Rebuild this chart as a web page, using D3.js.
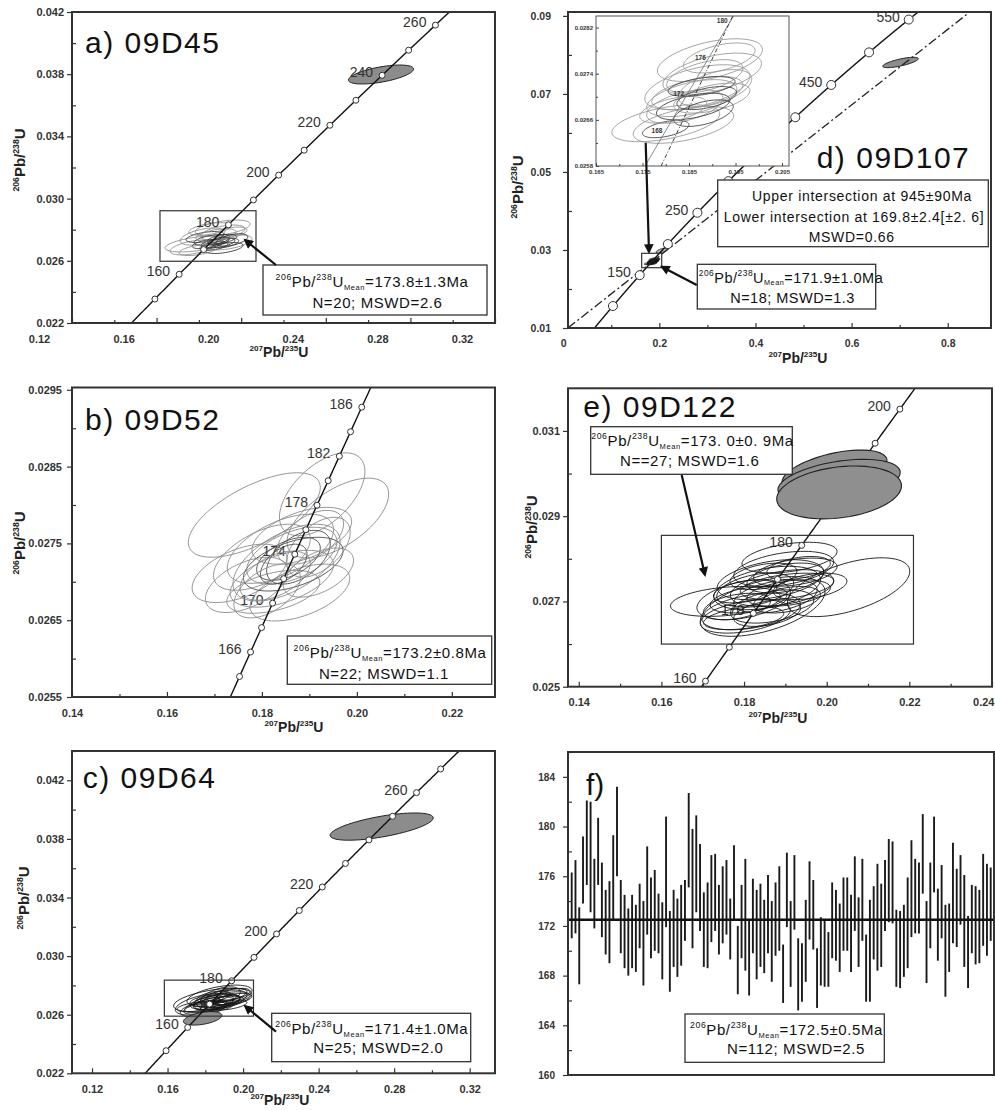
<!DOCTYPE html>
<html>
<head>
<meta charset="utf-8">
<script src="https://cdn.jsdelivr.net/npm/d3@7"></script>
<style>
  body { margin: 0; background: #fff; }
  svg text { font-family: "Liberation Sans", Arial, sans-serif; }
</style>
</head>
<body>
<div id="chart"></div>
<script>
// decay constants, per Ma
const L238 = 1.55125e-4;
const L235 = 9.8485e-4;

// ---- data -----------------------------------------------------------
// ellipses: [207Pb/235U, 206Pb/238U, err x, err y, rho]
const ellipsesA = [
  [0.1789, 0.02708, 0.0149, 0.00051, 0.5], [0.1912, 0.02811, 0.0130, 0.00051, 0.5],
  [0.1940, 0.02718, 0.0111, 0.00048, 0.5], [0.1817, 0.02756, 0.0106, 0.00055, 0.5],
  [0.1770, 0.02686, 0.0106, 0.00048, 0.5], [0.1912, 0.02782, 0.0106, 0.00048, 0.5],
  [0.1862, 0.02734, 0.0085, 0.00035, 0.5], [0.1890, 0.02714, 0.0080, 0.00032, 0.5],
  [0.1843, 0.02708, 0.0075, 0.00030, 0.5], [0.1909, 0.02740, 0.0070, 0.00030, 0.5],
  [0.1871, 0.02695, 0.0066, 0.00028, 0.5], [0.1928, 0.02714, 0.0060, 0.00030, 0.5],
  [0.1829, 0.02753, 0.0090, 0.00035, 0.5], [0.1881, 0.02766, 0.0095, 0.00040, 0.5],
  [0.1947, 0.02779, 0.0080, 0.00038, 0.5], [0.1796, 0.02669, 0.0090, 0.00035, 0.5],
  [0.1919, 0.02682, 0.0090, 0.00035, 0.5], [0.1852, 0.02805, 0.0100, 0.00040, 0.5],
  [0.1956, 0.02734, 0.0075, 0.00040, 0.5], [0.1895, 0.02727, 0.0050, 0.00025, 0.5]
];
const filledA = [[0.2661, 0.03798, 0.0154, 0.00061, 0.58]];

const ellipsesB = [
  [0.1784, 0.02787, 0.0139, 0.00055, 0.65], [0.1927, 0.02814, 0.0090, 0.00054, 0.55],
  [0.1960, 0.02783, 0.0107, 0.00052, 0.6], [0.1880, 0.02686, 0.0105, 0.00037, 0.5],
  [0.1753, 0.02711, 0.0100, 0.00038, 0.5], [0.1768, 0.02696, 0.0087, 0.00036, 0.5],
  [0.1839, 0.02743, 0.0112, 0.00045, 0.55], [0.1852, 0.02725, 0.0113, 0.00050, 0.55],
  [0.1824, 0.02687, 0.0098, 0.00028, 0.45], [0.1866, 0.02723, 0.0105, 0.00035, 0.5],
  [0.1863, 0.02734, 0.0095, 0.00037, 0.5], [0.1856, 0.02730, 0.0067, 0.00028, 0.5],
  [0.1877, 0.02732, 0.0067, 0.00035, 0.5], [0.1828, 0.02708, 0.0074, 0.00032, 0.5],
  [0.1884, 0.02760, 0.0105, 0.00037, 0.5], [0.1902, 0.02758, 0.0070, 0.00035, 0.5],
  [0.1842, 0.02704, 0.0109, 0.00037, 0.5], [0.1919, 0.02712, 0.0074, 0.00032, 0.5],
  [0.1919, 0.02745, 0.0067, 0.00039, 0.5], [0.1846, 0.02723, 0.0049, 0.00026, 0.5],
  [0.1800, 0.02732, 0.0102, 0.00043, 0.55], [0.1811, 0.02688, 0.0070, 0.00035, 0.5]
];

const ellipsesC = [
  [0.1839, 0.02700, 0.0207, 0.00080, 0.5], [0.1795, 0.02671, 0.0154, 0.00074, 0.5],
  [0.1875, 0.02728, 0.0172, 0.00074, 0.5], [0.1879, 0.02700, 0.0141, 0.00068, 0.5],
  [0.1879, 0.02722, 0.0106, 0.00068, 0.5], [0.1791, 0.02643, 0.0123, 0.00057, 0.5],
  [0.1852, 0.02688, 0.0132, 0.00051, 0.5], [0.1905, 0.02711, 0.0132, 0.00045, 0.5],
  [0.1843, 0.02677, 0.0106, 0.00045, 0.5], [0.1914, 0.02734, 0.0106, 0.00045, 0.5],
  [0.1796, 0.02654, 0.0106, 0.00040, 0.5], [0.1879, 0.02688, 0.0123, 0.00040, 0.5],
  [0.1879, 0.02711, 0.0088, 0.00034, 0.5], [0.1782, 0.02643, 0.0097, 0.00040, 0.5],
  [0.1945, 0.02705, 0.0101, 0.00040, 0.5], [0.1843, 0.02722, 0.0088, 0.00040, 0.5],
  [0.1861, 0.02654, 0.0088, 0.00034, 0.5], [0.1923, 0.02666, 0.0097, 0.00034, 0.5],
  [0.1808, 0.02700, 0.0088, 0.00034, 0.5], [0.1896, 0.02688, 0.0088, 0.00040, 0.5],
  [0.1747, 0.02654, 0.0097, 0.00034, 0.5], [0.1949, 0.02740, 0.0088, 0.00040, 0.5],
  [0.1843, 0.02666, 0.0070, 0.00034, 0.5], [0.1914, 0.02700, 0.0070, 0.00034, 0.5],
  [0.1808, 0.02688, 0.0070, 0.00034, 0.5]
];
const filledC = [[0.2734, 0.03884, 0.0273, 0.00093, 0.64], [0.1786, 0.02575, 0.0102, 0.00046, 0.45]];

const ellipsesD = [
  [0.1895, 0.027635, 0.0113, 0.00037, 0.5], [0.1900, 0.027397, 0.0106, 0.00036, 0.5],
  [0.1868, 0.027165, 0.0113, 0.00039, 0.5], [0.1856, 0.026977, 0.0097, 0.00032, 0.5],
  [0.1800, 0.026542, 0.0116, 0.00032, 0.5], [0.1838, 0.026513, 0.0108, 0.00032, 0.5],
  [0.1841, 0.026831, 0.0082, 0.00029, 0.5], [0.1868, 0.027064, 0.0098, 0.00029, 0.5],
  [0.1800, 0.026440, 0.0050, 0.00015, 0.5], [0.1884, 0.027353, 0.0082, 0.00029, 0.5],
  [0.1899, 0.026977, 0.0082, 0.00026, 0.5], [0.1859, 0.026831, 0.0079, 0.00023, 0.5],
  [0.1906, 0.027151, 0.0079, 0.00032, 0.5], [0.1915, 0.027673, 0.0077, 0.00026, 0.5],
  [0.1881, 0.026716, 0.0064, 0.00023, 0.5], [0.1888, 0.026977, 0.0064, 0.00020, 0.5],
  [0.1816, 0.026774, 0.0072, 0.00023, 0.5], [0.1877, 0.027179, 0.0072, 0.00017, 0.5]
];
const extraD = [[0.2041, 0.0298, 0.011, 0.0006, 0.6]];
const filledD = [[0.7017, 0.07806, 0.037, 0.00133, 0.73]];
const intercepts = [169.8, 945];
const insetRefLine = [[0.1790, 0.0258], [0.1944, 0.0284]];

const ellipsesE = [
  [0.2053, 0.027334, 0.0148, 0.00069, 0.54], [0.1755, 0.02700, 0.0133, 0.00035, 0.3],
  [0.1910, 0.028028, 0.0115, 0.00036, 0.4], [0.1896, 0.027765, 0.0121, 0.00041, 0.4],
  [0.1845, 0.026882, 0.0151, 0.00070, 0.5], [0.1817, 0.026765, 0.0119, 0.00043, 0.4],
  [0.1803, 0.026647, 0.0109, 0.00039, 0.4], [0.1856, 0.027315, 0.0129, 0.00051, 0.4],
  [0.1864, 0.02751, 0.0129, 0.00047, 0.4], [0.1892, 0.027315, 0.0125, 0.00043, 0.4],
  [0.1799, 0.02704, 0.0113, 0.00047, 0.4], [0.1900, 0.02755, 0.0093, 0.00035, 0.4],
  [0.1811, 0.02704, 0.0093, 0.00031, 0.4], [0.1876, 0.027118, 0.0101, 0.00039, 0.4],
  [0.1827, 0.027275, 0.0093, 0.00039, 0.4], [0.1904, 0.027353, 0.0113, 0.00031, 0.4],
  [0.1924, 0.027687, 0.0101, 0.00033, 0.4], [0.1960, 0.027353, 0.0089, 0.00031, 0.4],
  [0.1799, 0.026609, 0.0097, 0.00027, 0.4], [0.1868, 0.026882, 0.0101, 0.00039, 0.4],
  [0.1908, 0.027197, 0.0101, 0.00031, 0.4], [0.1847, 0.027588, 0.0081, 0.00031, 0.4],
  [0.1783, 0.026882, 0.0081, 0.00031, 0.4], [0.1904, 0.02704, 0.0081, 0.00031, 0.4],
  [0.1856, 0.026725, 0.0081, 0.00031, 0.4], [0.1932, 0.027785, 0.0077, 0.00027, 0.4],
  [0.1803, 0.027236, 0.0077, 0.00027, 0.4]
];
const filledE = [
  [0.2019, 0.030052, 0.0127, 0.00050, 0.5],
  [0.2030, 0.029824, 0.0148, 0.00051, 0.4],
  [0.2030, 0.029558, 0.0151, 0.00062, 0.25]
];

// f) 206Pb/238U ages (Ma), upper and lower error bar ends, 112 spots
const fHigh = [
  176.3, 177.3, 173.5, 179.2, 182.1, 182.0, 177.4, 180.7, 177.1, 174.9,
  175.6, 179.3, 183.2, 175.7, 174.5, 173.4, 174.5, 173.7, 175.4, 174.0,
  178.4, 175.9, 176.5, 174.6, 173.9, 180.8, 173.2, 174.9, 174.2, 175.3,
  175.7, 182.7, 179.8, 180.9, 178.6, 174.7, 175.5, 177.7, 177.8, 175.3,
  176.8, 177.3, 174.2, 178.5, 172.0, 175.3, 177.4, 172.5, 175.8, 174.9,
  175.4, 174.1, 176.1, 174.0, 175.5, 176.8, 170.5, 177.9, 174.0, 177.7,
  171.0, 170.6, 174.1, 177.2, 175.7, 170.2, 172.7, 172.5, 171.5, 175.5,
  174.9, 173.8, 175.9, 175.9, 174.5, 177.6, 174.3, 177.4, 171.3, 174.1,
  175.2, 177.0, 175.4, 177.3, 179.0, 178.8, 173.3, 173.2, 173.7, 175.9,
  178.9, 177.4, 177.1, 181.0, 174.0, 177.1, 180.8, 175.0, 176.9, 173.7,
  173.8, 178.7, 176.6, 177.7, 176.1, 172.8, 175.3, 175.2, 174.9, 177.8,
  177.0, 176.7
];
const fLow = [
  171.0, 171.4, 167.3, 173.8, 175.3, 173.1, 171.8, 175.3, 171.1, 169.7,
  169.0, 172.5, 176.0, 169.8, 168.6, 168.0, 168.6, 168.3, 170.2, 167.2,
  171.3, 169.4, 170.0, 169.8, 167.7, 171.9, 166.7, 168.7, 167.9, 168.8,
  170.8, 175.1, 170.2, 173.1, 171.6, 168.7, 168.6, 170.7, 171.6, 169.7,
  170.6, 171.3, 169.3, 172.4, 166.5, 169.4, 168.4, 166.4, 169.8, 167.7,
  168.7, 168.2, 169.8, 167.5, 169.6, 170.0, 165.8, 171.9, 167.1, 171.7,
  165.2, 165.9, 167.5, 170.9, 170.1, 165.4, 167.2, 167.1, 167.1, 169.4,
  169.2, 168.3, 170.0, 170.0, 168.3, 171.6, 168.7, 170.8, 165.9, 165.9,
  169.3, 168.4, 168.7, 171.6, 172.3, 172.2, 167.1, 167.0, 167.9, 168.6,
  171.1, 171.4, 171.4, 174.6, 167.4, 170.2, 174.7, 169.2, 171.0, 166.3,
  168.3, 170.6, 170.3, 172.1, 168.7, 167.0, 169.8, 168.9, 169.0, 170.4,
  169.6, 170.8
];
const fMean = 172.5;

// concordia age marks (Ma) and labelled ages
const marksAC = [150, 160, 170, 180, 190, 200, 210, 220, 230, 240, 250, 260, 270];
const labelsA = [160, 180, 200, 220, 240, 260];
const labelsC = [160, 180, 200, 220, 260];
const marksB = [164, 166, 168, 170, 172, 174, 176, 178, 180, 182, 184, 186, 188];
const labelsB = [166, 170, 174, 178, 182, 186];
const marksD = [100, 150, 200, 250, 300, 350, 400, 450, 500, 550];
const labelsD = [150, 250, 350, 450, 550];
const marksE = [160, 165, 170, 175, 180, 185, 190, 195, 200];
const labelsE = [160, 170, 180, 190, 200];
const labelsInset = [168, 172, 176, 180];

// tick values
const ticksX_AC = [0.12, 0.16, 0.20, 0.24, 0.28, 0.32];
const minorX_AC = [0.14, 0.18, 0.22, 0.26, 0.30];
const ticksY_AC = [0.022, 0.026, 0.030, 0.034, 0.038, 0.042];
const minorY_A = [0.024, 0.028, 0.032, 0.036, 0.040];
const minorY_C = [0.024, 0.028, 0.032, 0.036, 0.040, 0.044];
const ticksX_B = [0.14, 0.16, 0.18, 0.20, 0.22];
const minorX_B = [0.15, 0.17, 0.19, 0.21];
const ticksY_B = [0.0255, 0.0265, 0.0275, 0.0285, 0.0295];
const minorY_B = [0.026, 0.027, 0.028, 0.029];
const ticksX_D = [0, 0.2, 0.4, 0.6, 0.8];
const minorX_D = [0.1, 0.3, 0.5, 0.7];
const ticksY_D = [0.01, 0.03, 0.05, 0.07, 0.09];
const minorY_D = [0.02, 0.04, 0.06, 0.08];
const ticksX_E = [0.14, 0.16, 0.18, 0.20, 0.22, 0.24];
const minorX_E = [0.15, 0.17, 0.19, 0.21, 0.23];
const ticksY_E = [0.025, 0.027, 0.029, 0.031];
const minorY_E = [0.026, 0.028, 0.030];
const ticksY_F = [160, 164, 168, 172, 176, 180, 184];
const minorY_F = [162, 166, 170, 174, 178, 182, 186];
const ticksX_In = [0.165, 0.175, 0.185, 0.195, 0.205];
const minorX_In = [0.170, 0.180, 0.190, 0.200];
const ticksY_In = [0.0258, 0.0266, 0.0274, 0.0282];
const minorY_In = [0.0262, 0.0270, 0.0278];

// ---- helpers --------------------------------------------------------
const W = 995, H = 1110;
const conc = (t) => [Math.expm1(L235 * t), Math.expm1(L238 * t)];

const svg = d3.select("#chart").append("svg")
  .attr("width", W).attr("height", H);
svg.append("rect").attr("width", W).attr("height", H).attr("fill", "#fff");

const defs = svg.append("defs");
defs.append("marker")
  .attr("id", "arrow")
  .attr("viewBox", "0 0 10 10")
  .attr("refX", 8).attr("refY", 5)
  .attr("markerWidth", 5).attr("markerHeight", 4.4)
  .attr("orient", "auto")
  .append("path").attr("d", "M0,0 L10,5 L0,10 z").attr("fill", "#111");

function ellipsePts(e) {
  const [x, y, sx, sy, r] = e;
  const q = Math.sqrt(1 - r * r);
  return d3.range(0, 73).map((i) => {
    const a = (i / 72) * 2 * Math.PI;
    return [x + sx * Math.cos(a), y + sy * (r * Math.cos(a) + q * Math.sin(a))];
  });
}

// text with superscripts / subscripts
function rich(sel, parts, size) {
  let cur = 0;
  parts.forEach(([s, k]) => {
    const shift = k === "sup" ? -0.42 * size : k === "sub" ? 0.2 * size : 0;
    sel.append("tspan")
      .attr("dy", shift - cur)
      .style("font-size", (k === "sup" ? 0.58 : k === "sub" ? 0.5 : 1) * size + "px")
      .text(s);
    cur = shift;
  });
}
const meanParts = (v) => [["206", "sup"], ["Pb/"], ["238", "sup"], ["U"], ["Mean", "sub"], ["=" + v]];
const xTitle = [["207", "sup"], ["Pb/"], ["235", "sup"], ["U"]];
const yTitle = [["206", "sup"], ["Pb/"], ["238", "sup"], ["U"]];

function note(n) {
  svg.append("rect")
    .attr("x", n.rect[0]).attr("y", n.rect[1])
    .attr("width", n.rect[2]).attr("height", n.rect[3])
    .attr("fill", "#fff").attr("stroke", "#333").attr("stroke-width", 1.3);
  n.lines.forEach((l) => {
    const t = svg.append("text")
      .attr("x", l.x).attr("y", l.y)
      .attr("text-anchor", "middle")
      .style("font-size", (n.size || 15) + "px")
      .style("letter-spacing", (n.ls ?? 0.6) + "px")
      .attr("fill", "#111");
    if (l.parts) rich(t, l.parts, n.size || 15);
    else t.text(l.text);
  });
}

function arrow(a) {
  svg.append("line")
    .attr("x1", a[0]).attr("y1", a[1]).attr("x2", a[2]).attr("y2", a[3])
    .attr("stroke", "#111").attr("stroke-width", 2.2)
    .attr("marker-end", "url(#arrow)");
}

function axes(g, p, xs, ys) {
  const fs = p.tickFont || 11;
  g.append("g")
    .call(d3.axisLeft(ys).tickValues(p.yTicks).tickFormat(d3.format(p.yFmt))
      .tickSize(5).tickPadding(p.yPad));
  g.append("g")
    .call(d3.axisLeft(ys).tickValues(p.yMinor).tickFormat("").tickSize(-4));
  let xa = null;
  if (p.xTicks) {
    xa = g.append("g").attr("transform", `translate(0,${p.h})`)
      .call(d3.axisBottom(xs).tickValues(p.xTicks).tickFormat(p.xFmt)
        .tickSize(-5).tickPadding(12));
    xa.selectAll(".tick line").attr("opacity", (d) => (d >= p.xDom[0] ? 1 : 0));
    xa.selectAll(".tick text").attr("dx", p.xShift || 0);
    g.append("g").attr("transform", `translate(0,${p.h})`)
      .call(d3.axisBottom(xs).tickValues(p.xMinor).tickFormat("").tickSize(-3));
  }
  g.selectAll(".domain").remove();
  g.selectAll(".tick line").attr("stroke", "#333").attr("stroke-width", 1.2);
  g.selectAll(".tick text")
    .attr("fill", "#333")
    .style("font-size", fs + "px")
    .style("font-weight", "bold");
  // keep the last x label inside the page
  if (xa) {
    xa.selectAll(".tick text").each(function (d) {
      const right = p.x + xs(d) + this.getComputedTextLength() / 2;
      if (right > W - 1) d3.select(this).attr("dx", (W - 1) - right);
    });
  }
}

function drawEllipses(layer, list, xs, ys, style) {
  const line = d3.line().x((d) => xs(d[0])).y((d) => ys(d[1]));
  layer.selectAll(null)
    .data(list)
    .enter()
    .append("path")
    .attr("d", (d) => line(ellipsePts(d)))
    .attr("fill", style.fill || "none")
    .attr("fill-opacity", style.fillOpacity ?? 1)
    .attr("stroke", (d, i) => (style.dark && style.dark.includes(i) ? style.darkStroke : style.stroke))
    .attr("stroke-width", style.width || 0.9);
}

// ---- concordia panels ----------------------------------------------
function concordiaPanel(p) {
  const g = svg.append("g").attr("transform", `translate(${p.x},${p.y})`);
  const xs = d3.scaleLinear().domain(p.xDom).range([0, p.w]);
  const ys = d3.scaleLinear().domain(p.yDom).range([p.h, 0]);

  g.append("clipPath").attr("id", "clip-" + p.id)
    .append("rect").attr("width", p.w).attr("height", p.h);
  const plot = g.append("g").attr("clip-path", `url(#clip-${p.id})`);

  const drawLabels = () => {
    plot.selectAll(null)
      .data(p.labels)
      .enter()
      .append("text")
      .attr("x", (t) => xs(conc(t)[0]) - 9)
      .attr("y", (t) => ys(conc(t)[1]) + 2)
      .attr("text-anchor", "end")
      .attr("fill", "#333")
      .style("font-size", (p.ageFont || 14) + "px")
      .text((t) => t);
  };

  if (!p.labelsOver) drawLabels();
  drawEllipses(plot, p.ellipses, xs, ys, p.style);
  if (p.filled && !p.fillOnTop) {
    drawEllipses(plot, p.filled, xs, ys, { fill: "#8c8c8c", stroke: "#222", width: 1 });
  }

  // concordia curve
  const curve = d3.range(p.tRange[0], p.tRange[1], 0.5).map(conc);
  plot.append("path")
    .attr("d", d3.line().x((d) => xs(d[0])).y((d) => ys(d[1]))(curve))
    .attr("fill", "none").attr("stroke", "#111").attr("stroke-width", 1.4);

  if (p.discordia) {
    const [lo, up] = p.discordia.map(conc);
    const slope = (up[1] - lo[1]) / (up[0] - lo[0]);
    const x0 = p.xDom[0], x1 = p.xDom[1];
    plot.append("line")
      .attr("x1", xs(x0)).attr("y1", ys(lo[1] + (x0 - lo[0]) * slope))
      .attr("x2", xs(x1)).attr("y2", ys(lo[1] + (x1 - lo[0]) * slope))
      .attr("stroke", "#222").attr("stroke-width", 1.3)
      .attr("stroke-dasharray", "9,3,2,3");
  }

  plot.selectAll(null)
    .data(p.marks)
    .enter()
    .append("circle")
    .attr("cx", (t) => xs(conc(t)[0]))
    .attr("cy", (t) => ys(conc(t)[1]))
    .attr("r", p.markR || 3)
    .attr("fill", "#fff").attr("stroke", "#333").attr("stroke-width", 1);

  if (p.filled && p.fillOnTop) {
    drawEllipses(plot, p.filled, xs, ys, { fill: "#8f8f8f", stroke: "#222", width: 1.1 });
  }
  if (p.labelsOver) drawLabels();

  if (p.box) {
    const [bx0, bx1, by0, by1] = p.box;
    g.append("rect")
      .attr("x", xs(bx0)).attr("y", ys(by1))
      .attr("width", xs(bx1) - xs(bx0)).attr("height", ys(by0) - ys(by1))
      .attr("fill", "none").attr("stroke", "#333").attr("stroke-width", 1.2);
  }

  g.append("rect").attr("width", p.w).attr("height", p.h)
    .attr("fill", "none").attr("stroke", "#333").attr("stroke-width", 2);
  axes(g, p, xs, ys);

  // panel title
  svg.append("text")
    .attr("x", p.title[1]).attr("y", p.title[2])
    .style("font-size", "30px").style("letter-spacing", "1.5px")
    .attr("fill", "#111")
    .text(p.title[0]);

  // axis titles
  const xt = svg.append("text")
    .attr("x", p.xTitlePos[0]).attr("y", p.xTitlePos[1])
    .attr("text-anchor", "middle")
    .style("font-size", "14px").style("font-weight", "bold").attr("fill", "#222");
  rich(xt, xTitle, 14);
  const yt = svg.append("text")
    .attr("transform", `translate(${p.yTitlePos[0]},${p.yTitlePos[1]}) rotate(-90)`)
    .attr("text-anchor", "middle")
    .style("font-size", "15px").style("font-weight", "bold").attr("fill", "#222");
  rich(yt, yTitle, 15);

  return { g, xs, ys };
}

const styleA = { stroke: "#8d8d8d", darkStroke: "#333", width: 0.9, dark: [6, 7, 8, 9, 10, 11, 12, 16, 18, 19] };
const styleB = { stroke: "#8a8a8a", darkStroke: "#4a4a4a", width: 0.9, dark: [9, 11, 12, 19] };
const styleDark = { stroke: "#151515", width: 0.9 };

concordiaPanel({
  id: "a", x: 72, y: 12, w: 423, h: 311,
  xDom: [0.12, 0.32], yDom: [0.022, 0.042],
  xTicks: ticksX_AC, xMinor: minorX_AC, xFmt: d3.format(".2f"), xShift: -33,
  yTicks: ticksY_AC, yMinor: minorY_A, yFmt: ".3f", yPad: 3,
  tRange: [100, 320], marks: marksAC, labels: labelsA, labelsOver: true,
  ellipses: ellipsesA, style: styleA, filled: filledA,
  box: [0.1616, 0.2070, 0.02597, 0.02922],
  title: ["a) 09D45", 85, 53],
  xTitlePos: [279, 357], yTitlePos: [25, 160]
});

concordiaPanel({
  id: "b", x: 72, y: 387.5, w: 423, h: 309.5,
  xDom: [0.14, 0.2291], yDom: [0.0255, 0.02953],
  xTicks: ticksX_B, xMinor: minorX_B, xFmt: d3.format(".2f"),
  yTicks: ticksY_B, yMinor: minorY_B, yFmt: ".4f", yPad: 5,
  tRange: [150, 200], marks: marksB, labels: labelsB,
  ellipses: ellipsesB, style: styleB,
  title: ["b) 09D52", 85, 430],
  xTitlePos: [294, 732], yTitlePos: [25, 543]
});

concordiaPanel({
  id: "c", x: 72, y: 751, w: 423, h: 322.3,
  xDom: [0.1094, 0.3334], yDom: [0.022, 0.044],
  xTicks: ticksX_AC, xMinor: minorX_AC, xFmt: d3.format(".2f"),
  yTicks: ticksY_AC, yMinor: minorY_C, yFmt: ".3f", yPad: 3,
  tRange: [100, 320], marks: marksAC, labels: labelsC,
  ellipses: ellipsesC, style: styleDark, filled: filledC,
  box: [0.1583, 0.2055, 0.0259, 0.02836],
  title: ["c) 09D64", 82.7, 788.3],
  xTitlePos: [280, 1105], yTitlePos: [29, 898]
});

concordiaPanel({
  id: "d", x: 568, y: 12, w: 423, h: 316,
  xDom: [0.01, 0.89], yDom: [0.01, 0.091],
  xTicks: ticksX_D, xMinor: minorX_D, xFmt: (d) => (d === 0 ? "0" : d3.format(".1f")(d)),
  yTicks: ticksY_D, yMinor: minorY_D, yFmt: ".2f", yPad: 12, tickFont: 10.5,
  tRange: [0, 700], marks: marksD, labels: labelsD, markR: 4.5,
  discordia: intercepts,
  ellipses: ellipsesD.concat(extraD), style: { stroke: "#111", fill: "#333", fillOpacity: 0.35, width: 0.8 },
  filled: filledD,
  box: [0.1633, 0.2049, 0.02546, 0.02915],
  title: ["d) 09D107", 816.7, 168.3],
  xTitlePos: [798, 363], yTitlePos: [523, 187]
});

concordiaPanel({
  id: "e", x: 568, y: 388.3, w: 424, h: 298.4,
  xDom: [0.1374, 0.24], yDom: [0.025, 0.032],
  xTicks: ticksX_E, xMinor: minorX_E, xFmt: d3.format(".2f"),
  yTicks: ticksY_E, yMinor: minorY_E, yFmt: ".3f", yPad: 3,
  tRange: [120, 240], marks: marksE, labels: labelsE,
  ellipses: ellipsesE, style: styleDark, filled: filledE, fillOnTop: true,
  box: [0.16, 0.221, 0.026, 0.02855],
  title: ["e) 09D122", 583.3, 416.7],
  xTitlePos: [778, 723], yTitlePos: [537, 527]
});

// ---- inset of panel d ------------------------------------------------
(function inset() {
  const p = { x: 596, y: 16, w: 193, h: 150, xDom: [0.165, 0.2065], yDom: [0.0258, 0.0284] };
  const g = svg.append("g").attr("transform", `translate(${p.x},${p.y})`);
  const xs = d3.scaleLinear().domain(p.xDom).range([0, p.w]);
  const ys = d3.scaleLinear().domain(p.yDom).range([p.h, 0]);
  g.append("rect").attr("width", p.w).attr("height", p.h).attr("fill", "#fff");
  g.append("clipPath").attr("id", "clip-in")
    .append("rect").attr("width", p.w).attr("height", p.h);
  const plot = g.append("g").attr("clip-path", "url(#clip-in)");

  drawEllipses(plot, ellipsesD, xs, ys, { stroke: "#9a9a9a", darkStroke: "#444", width: 0.9, dark: [8, 11, 14, 15, 17] });

  const curve = d3.range(150, 200, 0.25).map(conc);
  plot.append("path")
    .attr("d", d3.line().x((d) => xs(d[0])).y((d) => ys(d[1]))(curve))
    .attr("fill", "none").attr("stroke", "#777").attr("stroke-width", 0.9);
  plot.append("line")
    .attr("x1", xs(insetRefLine[0][0])).attr("y1", ys(insetRefLine[0][1]))
    .attr("x2", xs(insetRefLine[1][0])).attr("y2", ys(insetRefLine[1][1]))
    .attr("stroke", "#222").attr("stroke-width", 0.9)
    .attr("stroke-dasharray", "4,2,1,2");
  plot.selectAll(null)
    .data(labelsInset)
    .enter()
    .append("text")
    .attr("x", (t) => xs(conc(t)[0]) - 3)
    .attr("y", (t) => ys(conc(t)[1]) + 2)
    .attr("text-anchor", "end")
    .style("font-size", "6.5px").style("font-weight", "bold")
    .attr("fill", "#333")
    .text((t) => t);

  g.append("rect").attr("width", p.w).attr("height", p.h)
    .attr("fill", "none").attr("stroke", "#555").attr("stroke-width", 1);
  const ax = g.append("g");
  ax.append("g").call(d3.axisLeft(ys).tickValues(ticksY_In).tickFormat(d3.format(".4f")).tickSize(-3).tickPadding(3));
  ax.append("g").call(d3.axisLeft(ys).tickValues(minorY_In).tickFormat("").tickSize(-2));
  ax.append("g").attr("transform", `translate(0,${p.h})`)
    .call(d3.axisBottom(xs).tickValues(ticksX_In).tickFormat(d3.format(".3f")).tickSize(-3).tickPadding(4));
  ax.append("g").attr("transform", `translate(0,${p.h})`)
    .call(d3.axisBottom(xs).tickValues(minorX_In).tickFormat("").tickSize(-2));
  ax.selectAll(".domain").remove();
  ax.selectAll(".tick line").attr("stroke", "#444");
  ax.selectAll(".tick text").attr("fill", "#333")
    .style("font-size", "6px").style("font-weight", "bold");
})();

// ---- panel f: weighted mean plot ---------------------------------------
(function panelF() {
  const p = { x: 568, y: 752, w: 426, h: 323 };
  const g = svg.append("g").attr("transform", `translate(${p.x},${p.y})`);
  const xs = d3.scaleLinear().domain([1, fHigh.length]).range([3.7, 422.7]);
  const ys = d3.scaleLinear().domain([160, 186]).range([p.h, 0]);

  g.selectAll(null)
    .data(fHigh)
    .enter()
    .append("line")
    .attr("x1", (d, i) => xs(i + 1)).attr("x2", (d, i) => xs(i + 1))
    .attr("y1", (d) => ys(d)).attr("y2", (d, i) => ys(fLow[i]))
    .attr("stroke", "#1a1a1a").attr("stroke-width", 1.9);

  g.append("line")
    .attr("x1", 0).attr("x2", p.w)
    .attr("y1", ys(fMean)).attr("y2", ys(fMean))
    .attr("stroke", "#111").attr("stroke-width", 2.6);

  g.append("rect").attr("width", p.w).attr("height", p.h)
    .attr("fill", "none").attr("stroke", "#333").attr("stroke-width", 2);
  axes(g, { yTicks: ticksY_F, yMinor: minorY_F, yFmt: "d", yPad: 8, tickFont: 10 }, xs, ys);

  svg.append("text")
    .attr("x", 586).attr("y", 795)
    .style("font-size", "30px").attr("fill", "#111")
    .text("f)");
})();

// ---- annotations ---------------------------------------------------------
note({ rect: [263, 265, 224, 50], lines: [
  { parts: meanParts("173.8±1.3Ma"), x: 372, y: 286.5 },
  { text: "N=20; MSWD=2.6", x: 377.5, y: 307.5 }] });
note({ rect: [287.3, 636, 204.4, 48.3], lines: [
  { parts: meanParts("173.2±0.8Ma"), x: 390, y: 657.5 },
  { text: "N=22; MSWD=1.1", x: 384, y: 679 }] });
note({ rect: [271.7, 1013.3, 199, 48.4], lines: [
  { parts: meanParts("171.4±1.0Ma"), x: 371.7, y: 1033.5 },
  { text: "N=25; MSWD=2.0", x: 378.3, y: 1053 }] });
note({ rect: [717.7, 180, 270.6, 66.7], size: 14, ls: 0.7, lines: [
  { text: "Upper intersection at 945±90Ma", x: 862, y: 201 },
  { text: "Lower intersection at 169.8±2.4[±2. 6]", x: 854, y: 221.7 },
  { text: "MSWD=0.66", x: 851.7, y: 241.7 }] });
note({ rect: [697.3, 264.3, 178.4, 44.7], size: 14.5, ls: 0.5, lines: [
  { parts: meanParts("171.9±1.0Ma"), x: 791, y: 282.5 },
  { text: "N=18; MSWD=1.3", x: 792.5, y: 302.5 }] });
note({ rect: [590.7, 426.7, 201.6, 47.6], lines: [
  { parts: meanParts("173. 0±0. 9Ma"), x: 692.5, y: 445.5 },
  { text: "N==27; MSWD=1.6", x: 689.7, y: 466 }] });
note({ rect: [685, 1014, 199.3, 48.3], lines: [
  { parts: meanParts("172.5±0.5Ma"), x: 786.5, y: 1034.5 },
  { text: "N=112; MSWD=2.5", x: 796, y: 1053.5 }] });

arrow([276, 265, 245, 240]);
arrow([276, 1031.7, 245, 1006]);
arrow([645.7, 143, 649, 252]);
arrow([696.7, 285, 661.7, 266.7]);
arrow([681.7, 475, 705, 575]);
</script>
</body>
</html>
